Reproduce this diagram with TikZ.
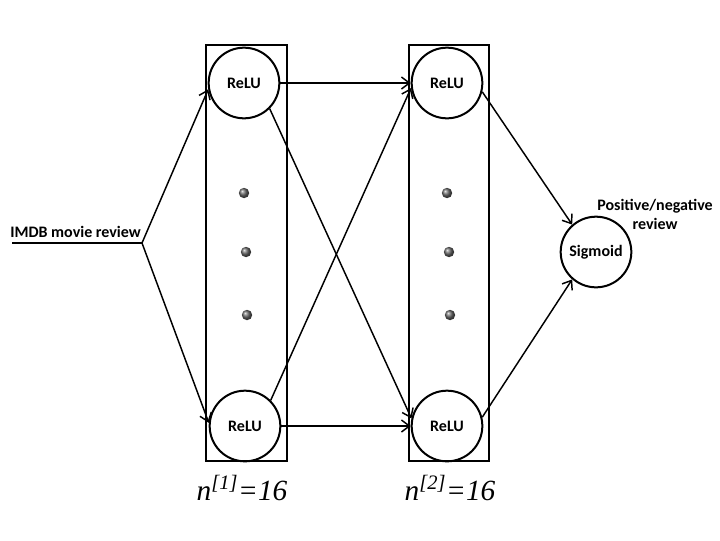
\documentclass[tikz,border=0pt]{standalone}
\usepackage{fontspec}
\setmainfont{Carlito}
\newfontfamily\timesfont{Liberation Serif}
\usetikzlibrary{arrows.meta,positioning}
\tikzset{
  unitnode/.style={circle,draw,line width=1.5pt,minimum size=53pt,inner sep=0pt,font=\bfseries\fontsize{12}{14}\selectfont},
  layerbox/.style={draw,line width=1.5pt},
  conn/.style={line width=1.1pt,-{Straight Barb[length=6pt,width=9pt,line width=1.1pt]}},
  plaintext/.style={font=\bfseries\fontsize{12}{14}\selectfont,inner sep=0pt},
  layerlabel/.style={font=\timesfont\itshape\fontsize{22}{24}\selectfont,inner sep=0pt,anchor=base},
  hiddendot/.style={ball color=black!60},
}
\begin{document}
\begin{tikzpicture}[x=0.75pt,y=-0.75pt]
    \useasboundingbox (0,0) rectangle (720,540);
    % layer boxes
    \draw [layerbox] (206,45) rectangle (287,461);
    \draw [layerbox] (409,45) rectangle (489,461);
    % units
    \node [unitnode] (t1) at (244,83) {ReLU};
    \node [unitnode] (b1) at (245,426) {ReLU};
    \node [unitnode] (t2) at (447,83) {ReLU};
    \node [unitnode] (b2) at (447,426) {ReLU};
    \node [unitnode] (sig) at (596,252) {Sigmoid};
    % dots between the units
    \foreach \x in {0,203}
        \foreach \y/\dx in {193/0,252/2,315/3}
            \shade [hiddendot] (244+\x+\dx,\y) circle (3.9pt);
    % input
    \node [plaintext,anchor=base west] (inlabel) at (10,237) {IMDB movie review};
    \coordinate (in) at (12,243);
    \coordinate (split) at (142,243);
    \draw [line width=1.1pt] (in) -- (split);
    \draw [conn] (split) -- (t1.190);
    \draw [conn] (split) -- (b1.175);
    % hidden layer connections
    \draw [conn] (t1.east) -- (t2.west);
    \draw [conn] (b1.east) -- (b2.west);
    \draw [conn] (t1.-45) -- (b2.168);
    \draw [conn] (b1.45) -- (t2.188);
    % output
    \draw [conn] (t2.-14) -- (sig.131);
    \draw [conn] (b2.14) -- (sig.229);
    \node [plaintext,align=center,anchor=north] (outlabel) at (655,199) {Positive/negative\\review};
    % layer sizes
    \node [layerlabel] (n1) at (242,500) {n\textsuperscript{[1]}=16};
    \node [layerlabel] (n2) at (450,500) {n\textsuperscript{[2]}=16};
\end{tikzpicture}
\end{document}
